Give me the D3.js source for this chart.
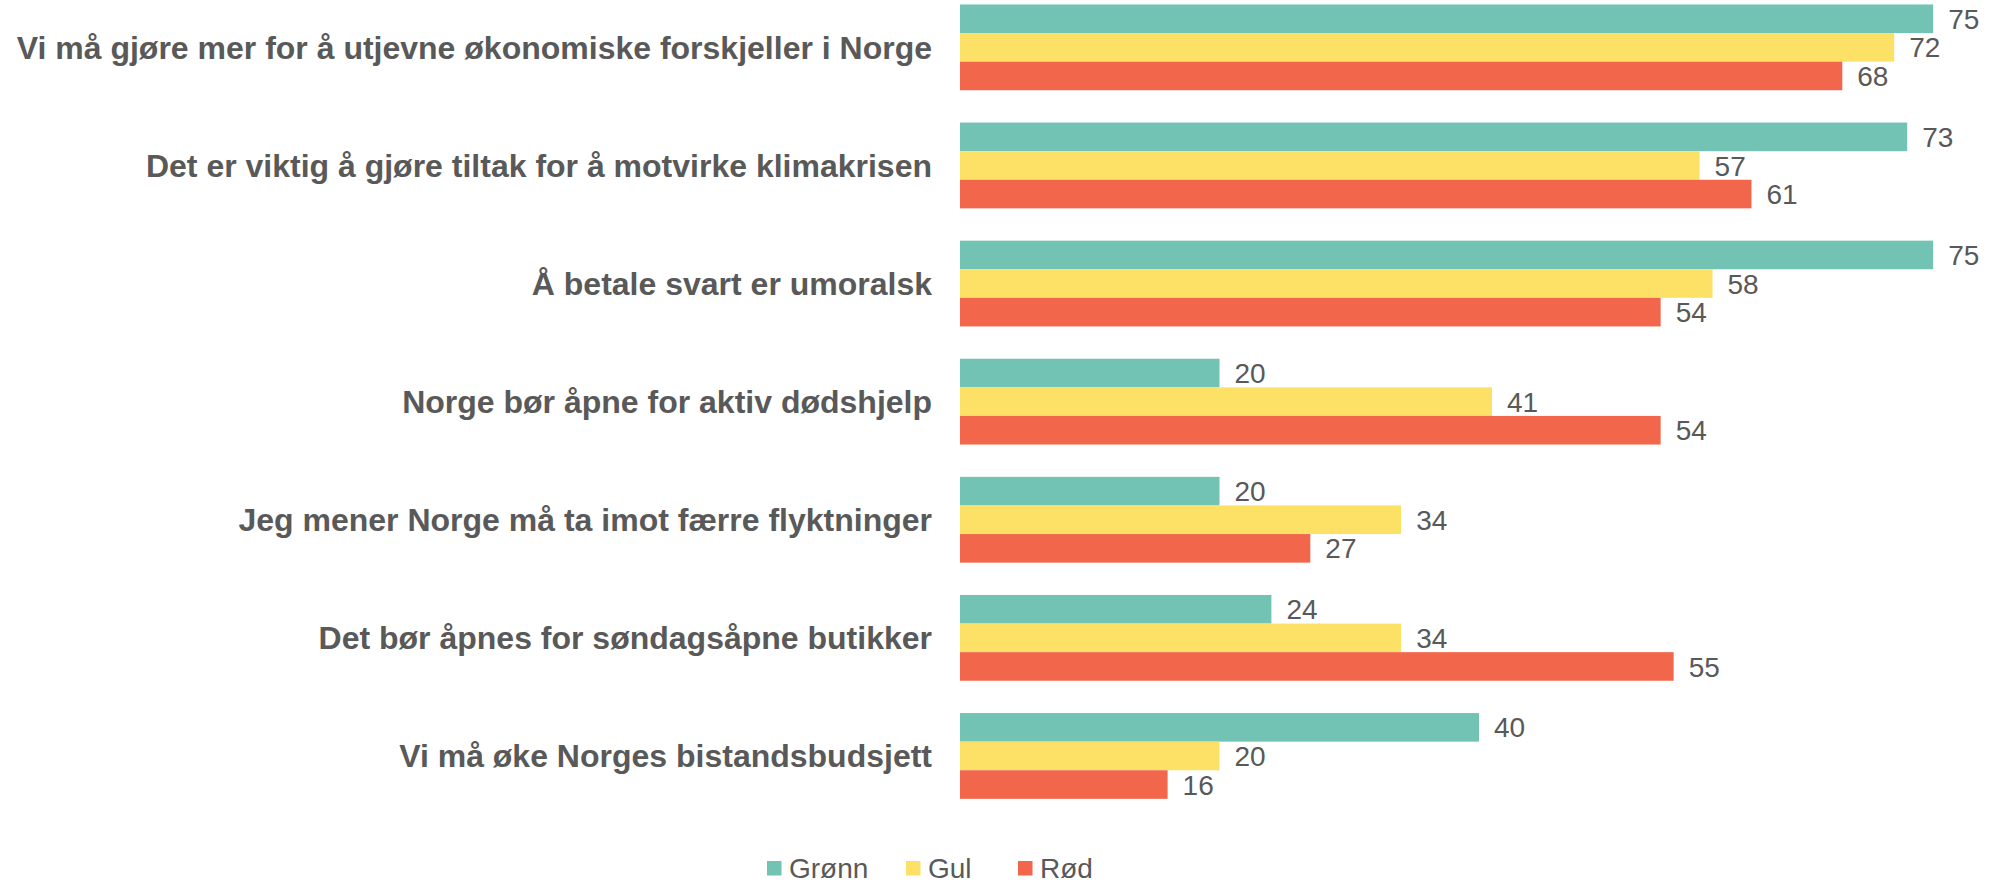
<!DOCTYPE html>
<html>
<head>
<meta charset="utf-8">
<script src="https://cdn.jsdelivr.net/npm/d3@7"></script>
<style>
  html, body { margin: 0; padding: 0; background: #fff; }
  svg { display: block; }
</style>
</head>
<body>
<svg id="chart" width="2006" height="884"></svg>
<script>
// Survey statements (top to bottom)
const categories = [
  "Vi må gjøre mer for å utjevne økonomiske forskjeller i Norge",
  "Det er viktig å gjøre tiltak for å motvirke klimakrisen",
  "Å betale svart er umoralsk",
  "Norge bør åpne for aktiv dødshjelp",
  "Jeg mener Norge må ta imot færre flyktninger",
  "Det bør åpnes for søndagsåpne butikker",
  "Vi må øke Norges bistandsbudsjett"
];

// Share agreeing, per group
const seriesNames = ["Grønn", "Gul", "Rød"];
const gronn = [75, 73, 75, 20, 20, 24, 40];
const gul   = [72, 57, 58, 41, 34, 34, 20];
const rod   = [68, 61, 54, 54, 27, 55, 16];
const seriesValues = [gronn, gul, rod];
const seriesColors = ["#72C3B4", "#FDE066", "#F2674B"];

const svg = d3.select("#chart");
const textColor = "#595959";

const x = d3.scaleLinear().domain([0, 80]).range([960, 1998]);
const y = d3.scaleBand()
  .domain(categories)
  .range([-11.7, 815])
  .paddingInner(0.2735)
  .paddingOuter(0.13675);
const ySub = d3.scaleBand()
  .domain(seriesNames)
  .range([0, y.bandwidth()]);

const rows = categories.map((c, i) => ({
  category: c,
  values: seriesNames.map((s, j) => ({ series: s, value: seriesValues[j][i], color: seriesColors[j] }))
}));

const groups = svg.append("g").selectAll("g")
  .data(rows)
  .join("g")
  .attr("transform", d => `translate(0,${y(d.category)})`);

groups.selectAll("rect")
  .data(d => d.values)
  .join("rect")
  .attr("x", x(0))
  .attr("y", d => ySub(d.series))
  .attr("width", d => x(d.value) - x(0))
  .attr("height", ySub.bandwidth())
  .attr("fill", d => d.color);

groups.selectAll("text.value")
  .data(d => d.values)
  .join("text")
  .attr("class", "value")
  .attr("x", d => x(d.value) + 15)
  .attr("y", d => ySub(d.series) + ySub.bandwidth() / 2)
  .attr("dy", "0.36em")
  .attr("font-family", "Liberation Sans, Arial, sans-serif")
  .attr("font-size", 28)
  .attr("fill", textColor)
  .text(d => d.value);

// Category labels, right-aligned against the bars
const yAxis = d3.axisLeft(y).tickSize(0).tickPadding(0);
const axisG = svg.append("g")
  .attr("transform", `translate(932,0)`)
  .call(yAxis);
axisG.select(".domain").remove();
axisG.selectAll("text")
  .attr("font-family", "Liberation Sans, Arial, sans-serif")
  .attr("font-size", 32)
  .attr("font-weight", "bold")
  .attr("fill", textColor)
  .attr("dy", "0.36em");

// Legend
const legendX = [767, 906, 1018];
const legend = svg.append("g");
const items = legend.selectAll("g")
  .data(seriesNames)
  .join("g")
  .attr("transform", (d, i) => `translate(${legendX[i]},861)`);
items.append("rect")
  .attr("width", 14.5)
  .attr("height", 14.5)
  .attr("fill", (d, i) => seriesColors[i]);
items.append("text")
  .attr("x", 22)
  .attr("y", 7.25)
  .attr("dy", "0.36em")
  .attr("font-family", "Liberation Sans, Arial, sans-serif")
  .attr("font-size", 28)
  .attr("fill", textColor)
  .text(d => d);
</script>
</body>
</html>
